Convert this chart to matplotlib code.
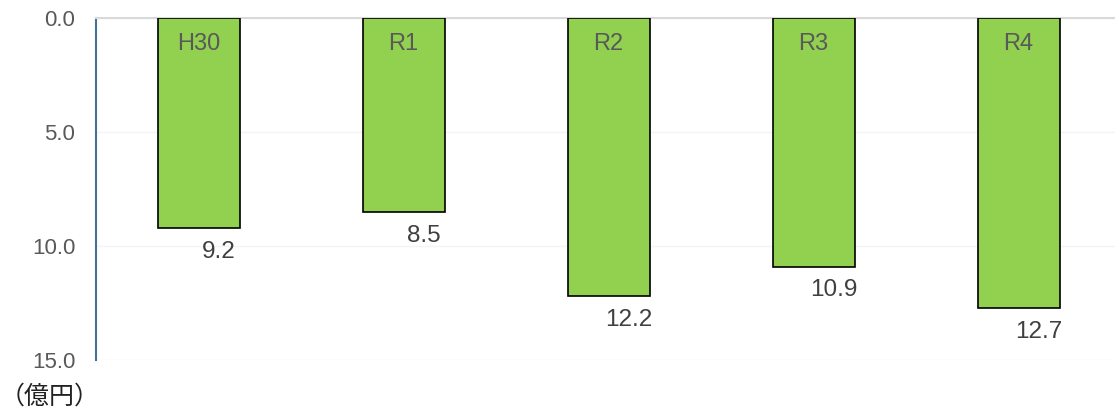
import matplotlib.pyplot as plt

categories = ["H30", "R1", "R2", "R3", "R4"]
amounts = [9.2, 8.5, 12.2, 10.9, 12.7]
yticks = [0, 5, 10, 15]

plt.rcParams['font.family'] = ['Liberation Sans', 'DejaVu Sans']

fig = plt.figure(figsize=(11.15, 4.11), dpi=100)
ax = fig.add_axes([96 / 1115, 51 / 411, 1025 / 1115, 342 / 411])

x = range(len(categories))
ax.bar(x, amounts, width=0.4, bottom=0, color='#92D050', edgecolor='black', linewidth=1.2, zorder=3)

for i, (cat, val) in enumerate(zip(categories, amounts)):
    ax.text(i, 1.15, cat, ha='center', va='center', fontsize=17, color='#595959', zorder=4)
    ax.text(i + 0.1, val + 1.05, f"{val:.1f}", ha='center', va='center', fontsize=17.5, color='#404040')

ax.set_xlim(-0.5, 4.5)
ax.set_ylim(15, 0)
ax.set_yticks(yticks)
ax.set_yticklabels([f"{v:.1f}" for v in yticks], fontsize=16, color='#595959')
ax.tick_params(axis='y', length=0, pad=15)
ax.set_xticks([])

ax.yaxis.grid(True, color='#f4f4f4', linewidth=1, zorder=0)
for side in ['right', 'bottom']:
    ax.spines[side].set_visible(False)
ax.spines['left'].set_color('#41719C')
ax.spines['left'].set_linewidth(1.5)
ax.spines['top'].set_color('#d9d9d9')
ax.spines['top'].set_linewidth(1.5)

fig.text(0, 1 - 397 / 411, "（億円）", fontsize=18, va='center', ha='left',
         family=['Noto Sans CJK JP', 'DejaVu Sans'], color='#222222')

fig.savefig("out.png", dpi=100)
plt.close(fig)
